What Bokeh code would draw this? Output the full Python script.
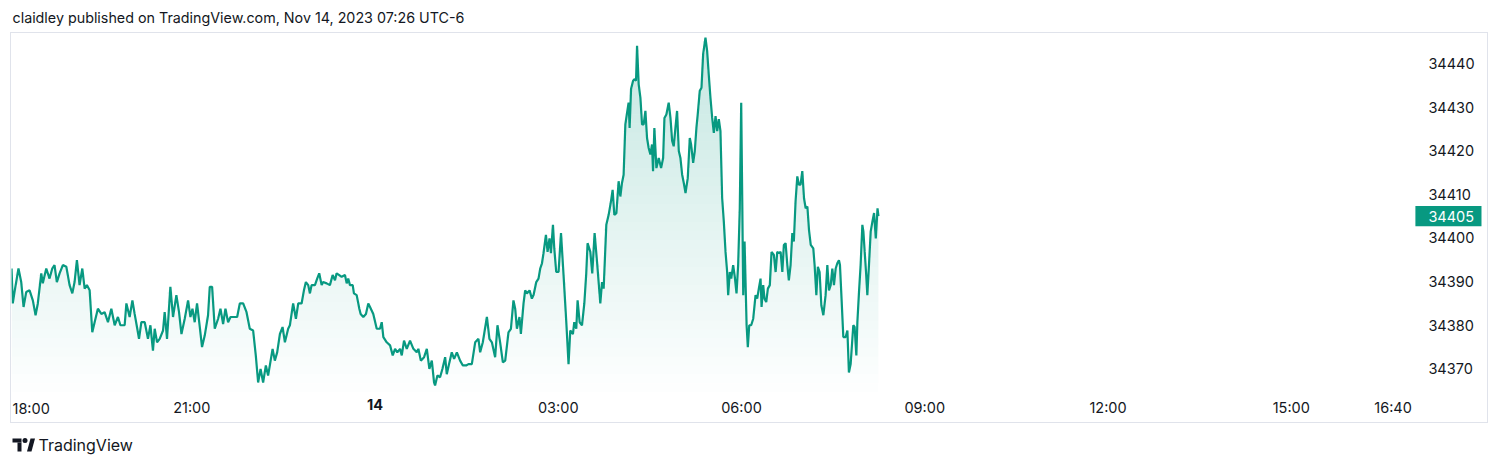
import numpy as np
from bokeh.plotting import figure
from bokeh.models import Range1d, FixedTicker, Label, BasicTickFormatter, LinearAxis
from bokeh.layouts import column
from bokeh.embed import file_html
from bokeh.resources import INLINE
from bokeh.core.properties import value

# ---------------- data ----------------
TITLE = "claidley published on TradingView.com, Nov 14, 2023 07:26 UTC-6"
BRAND = "TradingView"

# minutes since Nov 13, 18:00 (chart time)
MINUTES = [
    3.0, 4.2, 5.9, 9.8, 12.5, 14.8, 17.4, 20.7, 23.9, 26.6, 28.8, 32.2, 33.7, 37.1, 40.3, 43.0, 45.2, 47.5, 50.2, 53.4,
    56.8, 60.0, 62.7, 64.9, 67.2, 69.8, 72.5, 74.8, 77.0, 79.7, 82.3, 84.6, 87.8, 91.2, 94.4, 97.7, 101.0, 104.3, 107.5, 109.9,
    114.1, 115.8, 119.0, 121.7, 123.9, 126.2, 128.2, 130.5, 133.8, 137.0, 139.4, 141.9, 143.6, 145.9, 148.5, 151.8, 153.4, 155.7, 159.0, 161.6,
    164.9, 167.5, 169.9, 173.1, 176.4, 178.7, 180.7, 182.9, 185.2, 187.9, 190.1, 192.8, 196.0, 197.7, 200.0, 202.6, 205.9, 208.2, 210.8, 213.1,
    215.7, 218.1, 220.6, 224.6, 227.2, 230.5, 233.8, 237.0, 240.3, 242.9, 245.2, 247.6, 250.1, 252.8, 255.0, 256.7, 259.4, 261.6, 263.9, 266.6,
    269.2, 271.5, 274.7, 276.4, 279.6, 282.3, 284.6, 287.9, 290.2, 292.1, 294.4, 296.1, 297.7, 301.0, 303.2, 305.2, 307.6, 309.1, 312.5, 315.7,
    318.4, 320.7, 322.3, 324.9, 327.2, 330.5, 332.2, 333.7, 335.4, 338.1, 339.3, 342.0, 344.6, 345.9, 348.5, 351.1, 353.4, 355.1, 358.3, 361.7,
    364.9, 366.6, 368.2, 371.5, 374.8, 377.4, 379.7, 381.9, 384.6, 386.3, 388.5, 391.2, 394.4, 397.7, 401.0, 402.6, 405.0, 408.2, 410.9, 413.4,
    415.8, 418.0, 419.0, 421.3, 423.9, 426.2, 428.9, 430.5, 433.1, 435.4, 437.7, 440.4, 443.6, 446.3, 449.5, 451.8, 455.1, 458.4, 461.6, 463.3,
    465.9, 469.9, 472.4, 474.8, 478.0, 480.3, 482.9, 485.6, 487.9, 491.1, 493.5, 496.0, 497.7, 499.4, 501.9, 503.3, 505.9, 507.5, 509.2, 511.8,
    514.1, 515.7, 518.4, 520.6, 522.3, 524.0, 525.5, 527.9, 529.5, 531.4, 532.8, 534.8, 536.1, 538.0, 540.3, 542.7, 545.2, 547.9, 550.1, 551.8,
    554.4, 555.7, 557.7, 559.0, 561.0, 563.3, 565.6, 567.5, 568.8, 571.5, 573.4, 575.7, 578.1, 581.3, 583.0, 584.6, 587.2, 589.5, 591.8, 593.4,
    595.1, 597.1, 599.3, 601.0, 602.6, 604.2, 605.9, 607.6, 609.1, 610.1, 611.5, 613.5, 615.1, 616.4, 617.4, 619.0, 620.7, 622.3, 623.9, 625.6,
    627.2, 628.8, 630.5, 632.1, 633.1, 634.4, 636.4, 638.7, 641.0, 643.0, 644.3, 646.2, 648.5, 650.2, 651.9, 653.4, 655.1, 656.7, 658.4, 660.0,
    661.7, 663.3, 665.0, 667.2, 669.2, 670.5, 672.5, 674.1, 675.7, 677.0, 679.0, 680.7, 682.3, 684.6, 686.2, 687.8, 689.5, 691.2, 692.8, 694.5,
    696.1, 697.7, 699.3, 701.0, 702.6, 704.3, 705.9, 706.9, 708.5, 709.9, 711.8, 713.4, 715.1, 716.7, 718.3, 719.7, 720.7, 721.7, 723.0, 725.0,
    726.2, 727.6, 729.5, 731.5, 733.8, 735.4, 737.0, 738.7, 739.7, 741.3, 742.6, 744.3, 745.9, 747.8, 749.5, 751.8, 753.5, 755.1, 756.7, 758.4,
    760.1, 761.6, 763.3, 765.0, 766.5, 768.2, 769.9, 771.4, 773.1, 774.8, 776.4, 778.0, 779.7, 781.4, 783.0, 784.7, 786.3, 788.0, 790.5, 791.8,
    793.5, 795.0, 796.7, 798.4, 800.4, 802.6, 804.3, 805.9, 807.6, 809.2, 810.8, 812.5, 814.1, 815.7, 816.7, 818.1, 820.0, 822.3, 824.0, 825.5,
    827.2, 829.8, 831.1, 832.8, 833.8, 835.4, 837.0, 838.7, 839.7, 841.0, 842.3, 843.6, 845.2, 846.9, 848.6, 850.2, 851.9, 853.6, 854.5,
]

PRICES = [
    34393.0, 34385.0, 34387.6, 34393.0, 34389.9, 34384.2, 34387.6, 34388.0, 34385.7, 34382.3, 34385.0, 34391.9, 34389.6, 34393.0, 34390.7, 34393.0, 34393.8, 34389.9, 34391.9, 34393.8,
    34393.4, 34389.2, 34387.3, 34389.9, 34394.9, 34389.2, 34393.0, 34388.4, 34389.2, 34388.0, 34378.4, 34380.7, 34383.8, 34382.6, 34383.0, 34380.7, 34383.8, 34380.0, 34381.9, 34380.0,
    34380.0, 34385.0, 34381.9, 34385.7, 34382.6, 34379.6, 34376.9, 34380.7, 34380.7, 34376.9, 34380.0, 34374.2, 34379.2, 34376.1, 34376.9, 34378.8, 34383.0, 34376.9, 34388.8, 34381.9,
    34386.9, 34383.0, 34378.0, 34381.5, 34385.7, 34381.9, 34383.8, 34380.7, 34385.0, 34379.6, 34375.0, 34377.7, 34382.3, 34388.8, 34388.8, 34379.2, 34381.5, 34383.8, 34380.3, 34383.8,
    34380.7, 34381.9, 34381.9, 34381.9, 34385.0, 34385.0, 34383.0, 34379.2, 34378.8, 34373.1, 34366.9, 34370.0, 34366.9, 34370.8, 34368.5, 34370.8, 34374.6, 34371.9, 34373.8, 34378.0,
    34379.6, 34376.1, 34379.2, 34380.0, 34385.0, 34381.5, 34385.0, 34385.0, 34388.0, 34389.9, 34389.2, 34387.3, 34389.2, 34389.2, 34390.7, 34391.9, 34389.2, 34389.9, 34389.6, 34389.2,
    34391.5, 34390.3, 34391.9, 34391.5, 34391.1, 34391.5, 34389.6, 34390.7, 34389.2, 34389.2, 34387.3, 34386.9, 34383.8, 34382.6, 34381.9, 34382.6, 34385.0, 34384.2, 34382.6, 34379.2,
    34379.2, 34380.7, 34377.3, 34376.1, 34375.4, 34373.1, 34374.6, 34373.8, 34374.6, 34373.1, 34376.5, 34374.6, 34376.5, 34374.6, 34373.8, 34374.6, 34371.9, 34372.7, 34374.6, 34370.0,
    34371.9, 34366.9, 34366.2, 34368.5, 34368.1, 34370.0, 34372.7, 34368.8, 34371.5, 34373.8, 34372.3, 34373.8, 34371.9, 34370.8, 34370.8, 34371.1, 34371.1, 34376.1, 34376.9, 34373.8,
    34376.1, 34381.9, 34376.9, 34376.1, 34372.7, 34380.0, 34376.1, 34371.5, 34371.9, 34378.4, 34379.2, 34385.7, 34383.8, 34379.2, 34381.9, 34378.0, 34385.0, 34388.0, 34387.3, 34388.0,
    34386.1, 34386.9, 34389.9, 34390.7, 34393.0, 34394.2, 34396.5, 34400.7, 34396.8, 34399.9, 34396.5, 34403.0, 34397.6, 34392.2, 34392.2, 34401.1, 34391.5, 34380.7, 34371.1, 34378.8,
    34378.0, 34380.7, 34379.2, 34385.7, 34380.7, 34380.0, 34385.0, 34391.9, 34398.8, 34396.8, 34391.9, 34401.1, 34394.5, 34385.0, 34389.9, 34388.4, 34403.0, 34405.3, 34408.4, 34411.0,
    34405.3, 34405.7, 34413.0, 34409.5, 34412.6, 34414.5, 34426.0, 34428.7, 34431.0, 34425.2, 34434.1, 34436.0, 34436.4, 34436.0, 34444.0, 34435.2, 34432.1, 34426.0, 34426.0, 34429.1,
    34422.9, 34420.6, 34419.1, 34421.4, 34415.3, 34425.2, 34416.0, 34418.3, 34416.0, 34418.3, 34427.5, 34428.3, 34431.0, 34427.5, 34422.2, 34421.0, 34425.2, 34429.1, 34419.9, 34418.3,
    34414.5, 34412.6, 34410.3, 34413.7, 34422.9, 34421.4, 34417.2, 34419.9, 34425.2, 34428.3, 34433.7, 34434.4, 34442.1, 34445.9, 34442.9, 34437.5, 34432.1, 34427.5, 34424.1, 34427.9,
    34424.5, 34427.2, 34424.5, 34409.1, 34403.8, 34396.8, 34392.2, 34386.9, 34392.2, 34390.7, 34393.8, 34391.1, 34387.3, 34393.8, 34406.8, 34431.0, 34409.1, 34386.9, 34399.2, 34380.0,
    34375.0, 34380.0, 34380.0, 34381.5, 34386.9, 34386.1, 34388.4, 34390.7, 34384.2, 34389.2, 34386.1, 34385.3, 34388.4, 34389.2, 34396.8, 34396.1, 34392.2, 34396.8, 34396.5, 34396.8,
    34392.2, 34398.4, 34398.8, 34393.8, 34390.3, 34393.8, 34401.1, 34399.2, 34408.4, 34414.1, 34412.2, 34412.2, 34415.3, 34409.1, 34406.8, 34407.2, 34401.8, 34398.4, 34397.6, 34393.8,
    34386.9, 34393.4, 34392.2, 34384.6, 34382.3, 34386.9, 34393.8, 34388.0, 34389.2, 34393.0, 34389.2, 34393.0, 34394.2, 34394.9, 34393.8, 34386.9, 34377.3, 34377.3, 34378.8, 34369.2,
    34371.1, 34380.0, 34379.6, 34373.1, 34380.7, 34387.6, 34393.8, 34403.0, 34401.5, 34396.8, 34392.2, 34386.9, 34393.8, 34401.5, 34403.8, 34405.7, 34399.9, 34406.8, 34405.0,
]

LAST_PRICE = 34405
X_TICKS = [180, 540, 720, 900, 1080, 1260, 1360]
X_TICK_LABELS = ["21:00", "03:00", "06:00", "09:00", "12:00", "15:00", "16:40"]
DAY_TICK = 360
DAY_LABEL = "14"
FIRST_LABEL = "18:00"
Y_TICKS = [34370, 34380, 34390, 34400, 34410, 34420, 34430, 34440]

# ---------------- style / layout ----------------
FONT = "Inter"
TXT = "#131722"
GREEN = "#089981"
BORDER = "#e0e3eb"
AX_FONT = "14.5px"

# page-pixel calibration of the chart pane (layout constants)
PX_PER_MIN = 1.0167      # horizontal scale
PX_PER_PT = 4.343        # vertical scale


def m_at(px):            # page x -> minutes
    return (px - 8.0) / PX_PER_MIN


def v_at(py):            # page y -> price
    return 34440 - (py - 62.7) / PX_PER_PT


X_MIN, X_MAX = m_at(11), m_at(1487)
Y_MIN, Y_MAX = v_at(422), v_at(33)
PANE_RIGHT = m_at(1410)
PANE_BOTTOM = v_at(390)
LABEL_ROW = v_at(406)

# ---------------- header ----------------
hdr = figure(width=1480, height=24, x_range=Range1d(0, 1480), y_range=Range1d(24, 0),
             x_axis_type=None, y_axis_type=None, toolbar_location=None,
             output_backend="svg", min_border=0, outline_line_color=None, margin=(8, 0, 0, 8))
hdr.add_layout(Label(x=4, y=9, text=TITLE, text_font=FONT, text_font_size="14.3px",
                     text_color=TXT, text_baseline="middle"))

# ---------------- chart ----------------
p = figure(width=1478, height=391, x_range=Range1d(X_MIN, X_MAX), y_range=Range1d(Y_MIN, Y_MAX),
           y_axis_location="right", toolbar_location=None, output_backend="svg",
           min_border=0, margin=(0, 0, 0, 10), styles={"border": "1px solid " + BORDER})
p.outline_line_color = None
p.grid.visible = False
p.background_fill_color = "white"
p.border_fill_color = "white"

x = np.array(MINUTES)
pr = np.array(PRICES)
nb = 40
edges = np.linspace(PANE_BOTTOM, Y_MAX, nb + 1)
for k in range(nb):
    lo, hi = edges[k], edges[k + 1]
    a = 0.005 + 0.23 * (k + 0.5) / nb
    p.varea(x=x, y1=np.full_like(pr, lo), y2=np.clip(pr, lo, hi), fill_color=GREEN, fill_alpha=a)
p.line(x, pr, line_color=GREEN, line_width=2.2)


def style_axis(ax):
    ax.axis_line_color = None
    ax.major_tick_line_color = None
    ax.minor_tick_line_color = None
    ax.major_label_text_font = FONT
    ax.major_label_text_font_size = AX_FONT
    ax.major_label_text_color = TXT


xa = p.xaxis[0]
xa.ticker = FixedTicker(ticks=X_TICKS)
xa.major_label_overrides = {t: l for t, l in zip(X_TICKS, X_TICK_LABELS)}
xa.fixed_location = PANE_BOTTOM
xa.major_label_standoff = 1
style_axis(xa)

xa2 = LinearAxis(ticker=FixedTicker(ticks=[DAY_TICK]), major_label_overrides={DAY_TICK: DAY_LABEL},
                 fixed_location=PANE_BOTTOM, major_label_standoff=1)
style_axis(xa2)
xa2.major_label_text_font_style = "bold"
p.add_layout(xa2, "below")

ya = p.yaxis[0]
ya.ticker = FixedTicker(ticks=Y_TICKS)
ya.formatter = BasicTickFormatter(use_scientific=False)
ya.fixed_location = PANE_RIGHT
ya.major_label_standoff = 10
style_axis(ya)

# first time label pinned to the left edge (as TradingView does)
p.text(x=[m_at(12)], y=[LABEL_ROW], text=[FIRST_LABEL], text_font=value(FONT), text_font_size=AX_FONT,
       text_color=TXT, text_align="left", text_baseline="middle")

# last-price tag on the price scale
p.rect(x=[m_at(1446)], y=[LAST_PRICE], width=66 / PX_PER_MIN, height=20 / PX_PER_PT,
       fill_color=GREEN, line_color=None)
p.text(x=[m_at(1426)], y=[LAST_PRICE], text=[str(LAST_PRICE)], text_font=value(FONT),
       text_font_size=AX_FONT, text_color="white", text_align="left", text_baseline="middle")

# ---------------- footer ----------------
ftr = figure(width=1480, height=34, x_range=Range1d(0, 1480), y_range=Range1d(34, 0),
             x_axis_type=None, y_axis_type=None, toolbar_location=None,
             output_backend="svg", min_border=0, outline_line_color=None, margin=(0, 0, 0, 8))
ftr.quad(left=[4, 9], right=[13, 13], top=[15, 19], bottom=[19, 28], fill_color=TXT, line_color=None)
ftr.scatter([16.5], [17], size=5, fill_color=TXT, line_color=None)
ftr.patch([18.5, 23, 26.5, 22], [28, 28, 15, 15], fill_color=TXT, line_color=None)
ftr.add_layout(Label(x=30, y=21, text=BRAND, text_font=FONT, text_font_size="16px",
                     text_color=TXT, text_baseline="middle"))

layout = column(hdr, p, ftr, spacing=0)
open("out.html", "w").write(file_html(layout, INLINE))
